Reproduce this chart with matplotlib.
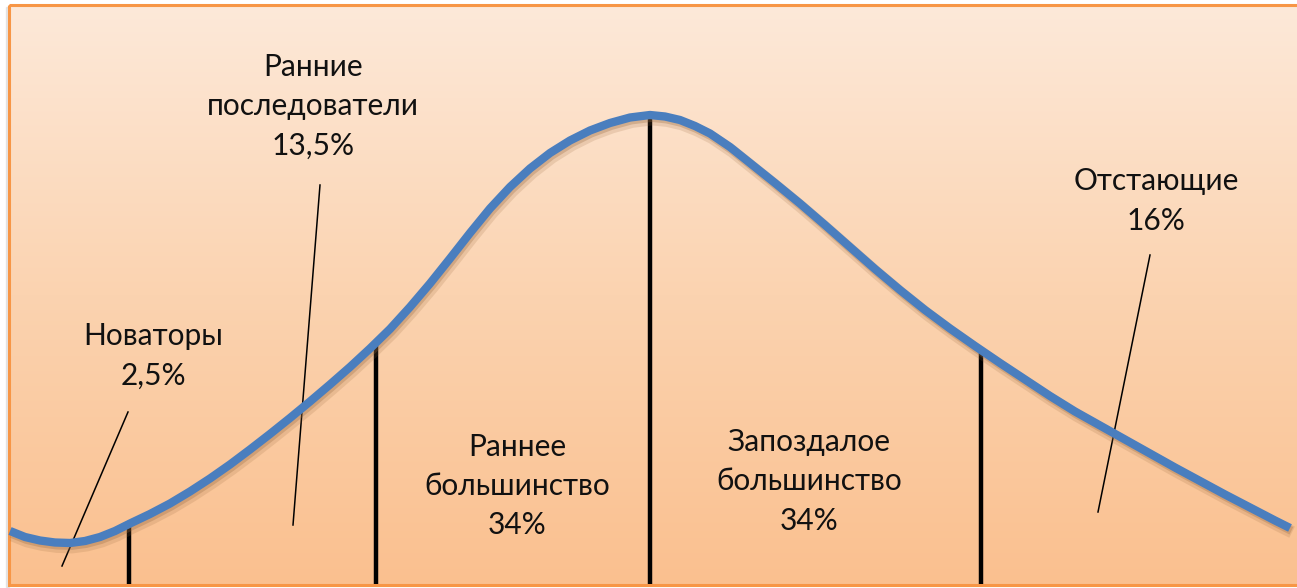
import numpy as np
import matplotlib
matplotlib.use('agg')
import matplotlib.pyplot as plt
import matplotlib.patheffects as pe
from matplotlib.colors import LinearSegmentedColormap
from matplotlib.patches import Rectangle

plt.rcParams['font.family'] = ['Lato', 'DejaVu Sans']

# -------- данные (кривая в координатах рисунка) --------
curve_x = [10, 25, 40, 55, 70, 85, 100, 115, 130, 150, 170, 190, 210, 230, 250,
           270, 290, 310, 330, 350, 370, 390, 410, 430, 450, 470, 490, 510, 530,
           550, 570, 590, 610, 630, 650, 665, 680, 695, 710, 730, 750, 775, 800,
           825, 850, 875, 900, 925, 950, 975, 1000, 1025, 1050, 1075, 1100, 1125,
           1150, 1175, 1200, 1225, 1250, 1275, 1290]
curve_y = [531, 537, 540.5, 542.5, 543, 541, 537, 531, 523.5, 514, 503.5, 491.5, 478.5,
           464.5, 449.5, 434, 418, 401.5, 384.5, 367, 348.5, 329, 307, 283.5, 258.5,
           233, 208.5, 187, 168.5, 153, 140.5, 130.5, 123, 117.5, 115, 116.5, 120,
           126, 133.5, 147, 163, 183, 203.5, 225, 247, 269, 290, 310, 328.5, 346,
           363, 379.5, 396, 411.5, 425.5, 439.5, 453.5, 467.5, 481, 494.5, 507.5,
           520.5, 528]

divider_x = [129, 376, 650, 981]
bottom_y = 584

# выноски: (x0, y0, x1, y1)
leader_lines = [(62, 566, 128, 412),
                (293, 525, 320, 185),
                (1098, 512, 1150, 255)]

labels = ['Ранние\nпоследователи\n13,5%',
          'Новаторы\n2,5%',
          'Раннее\nбольшинство\n34%',
          'Запоздалое\nбольшинство\n34%',
          'Отстающие\n16%']
label_x = [313, 153, 517, 809, 1156]
label_y = [106, 356, 486, 481, 201]

# -------- рисунок --------
W, H = 1297, 588
fig = plt.figure(figsize=(W / 100, H / 100), dpi=100)
ax = fig.add_axes([0, 0, 1, 1])
ax.set_xlim(0, W)
ax.set_ylim(H, 0)
ax.axis('off')

# фон с градиентом
cmap = LinearSegmentedColormap.from_list('bg', ['#FDE9D9', '#FBD3B0', '#FAC08F'])
grad = np.linspace(0, 1, 256).reshape(-1, 1)
ax.imshow(grad, cmap=cmap, aspect='auto', extent=[9, W + 5, 585, 5], zorder=0)
ax.add_patch(Rectangle((6, 7), 3, 580, color='#d8d8d8', alpha=0.6, zorder=0))
ax.add_patch(Rectangle((9, 5), W, 580, fill=False, edgecolor='#F79646', linewidth=2.2, zorder=1))

# вертикальные линии
tops = np.interp(divider_x, curve_x, curve_y)
ax.vlines(divider_x, tops, bottom_y, colors='black', linewidth=3.2, zorder=2)

# выноски
for x0, y0, x1, y1 in leader_lines:
    ax.plot([x0, x1], [y0, y1], color='black', linewidth=1.1, zorder=2)

# кривая с мягкой тенью
ax.plot(curve_x, curve_y, color='#4A7EBE', linewidth=6, solid_capstyle='butt',
        solid_joinstyle='round', zorder=3,
        path_effects=[pe.SimpleLineShadow(offset=(1.5, -3), shadow_color='#9a6a40', alpha=0.18,
                                          linewidth=9),
                      pe.SimpleLineShadow(offset=(1, -2), shadow_color='#9a6a40', alpha=0.3),
                      pe.Normal()])

for t, x, y in zip(labels, label_x, label_y):
    ax.text(x, y, t, ha='center', va='center', fontsize=21.5, color='#111111',
            linespacing=1.5, zorder=4)

fig.savefig('out.png', dpi=100)
